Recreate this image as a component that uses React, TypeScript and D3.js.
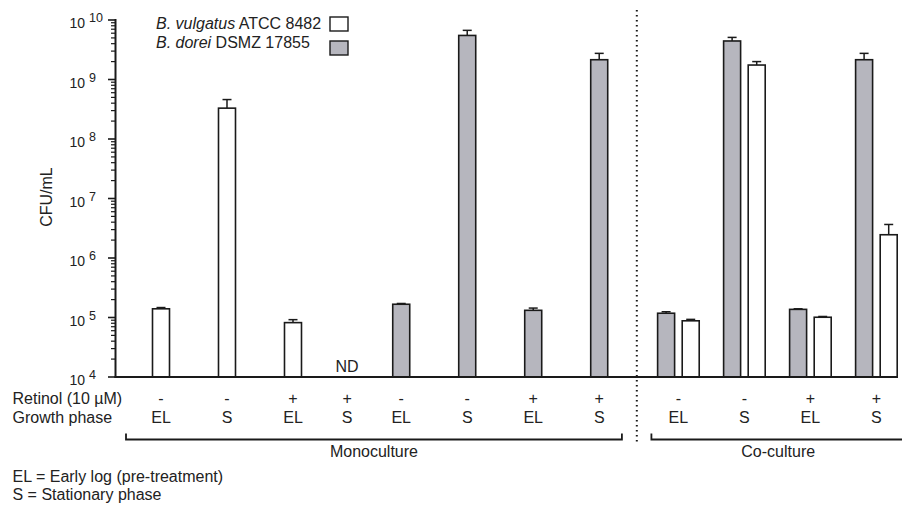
import React from 'react';
import * as d3 from 'd3';

// conditions, left to right
const phases = ['EL', 'S', 'EL', 'S', 'EL', 'S', 'EL', 'S', 'EL', 'S', 'EL', 'S'];
const retinol = ['-', '-', '+', '+', '-', '-', '+', '+', '-', '-', '+', '+'];

// B. vulgatus ATCC 8482 (white bars), CFU/mL mean and SD; null = not in that culture
const vulgatusMean = [1.4e5, 3.3e8, 8.2e4, null, null, null, null, null, 8.8e4, 1.75e9, 1.01e5, 2.46e6];
const vulgatusSd = [7e3, 1.3e8, 1e4, null, null, null, null, null, 5e3, 2.5e8, 3e3, 1.2e6];

// B. dorei DSMZ 17855 (grey bars)
const doreiMean = [null, null, null, null, 1.67e5, 5.5e9, 1.32e5, 2.15e9, 1.18e5, 4.44e9, 1.37e5, 2.15e9];
const doreiSd = [null, null, null, null, 5e3, 1.2e9, 1.2e4, 6e8, 7e3, 6.6e8, 3e3, 6e8];

const notDetected = [3]; // vulgatus S + retinol, monoculture
const coCultureStart = 8;
const yExponents = [4, 5, 6, 7, 8, 9, 10];

// layout
const W = 902;
const H = 510;
const font = '"Liberation Sans", Arial, sans-serif';
const fs = 16;
const slotGaps = [1, 1, 0.82, 0.82, 1, 1, 1, 1.2, 1, 1, 1];
const barW = 17;
const pairOffset = 12.3;
const grey = '#b6b6be';
const ink = '#1a1a1a';
const txt = '#222';

const slots = [0];
slotGaps.forEach((g, i) => slots.push(slots[i] + g));

const App = () => {
  const x = d3.scaleLinear().domain([0, slots[slots.length - 1]]).range([161, 876.4]);
  const y = d3.scaleLog().domain([1e4, 1e10]).range([377, 20]);
  const axisX = 115.5;
  const axisY = y(1e4);

  const minor: number[] = [];
  for (let e = 4; e < 10; e++) {
    for (let k = 2; k <= 9; k++) minor.push(k * Math.pow(10, e));
  }

  const bars: { cx: number; mean: number; sd: number; fill: string; key: string }[] = [];
  phases.forEach((_, i) => {
    const c = x(slots[i]);
    const co = i >= coCultureStart;
    const d = doreiMean[i];
    const v = vulgatusMean[i];
    if (d != null) bars.push({ cx: co ? c - pairOffset : c, mean: d, sd: doreiSd[i] as number, fill: grey, key: 'd' + i });
    if (v != null) bars.push({ cx: co ? c + pairOffset : c, mean: v, sd: vulgatusSd[i] as number, fill: '#fff', key: 'v' + i });
  });

  const monoL = x(slots[0]) - 35;
  const monoR = x(slots[coCultureStart - 1]) + 22.7;
  const coL = x(slots[coCultureStart]) - 27;
  const coR = 905;
  const dividerX = (x(slots[coCultureStart - 1]) + x(slots[coCultureStart])) / 2 - 2;

  return (
    <div style={{ position: 'absolute', left: 0, top: 0 }}>
      <svg width={W} height={H} style={{ display: 'block', fontFamily: font }}>
        <rect width={W} height={H} fill="#fff" />

        {/* y axis */}
        <line x1={axisX} x2={axisX} y1={y(1e10) - 1} y2={axisY + 1} stroke={ink} strokeWidth={2} />
        {yExponents.map((e) => (
          <g key={e}>
            <line x1={axisX - 7.5} x2={axisX} y1={y(Math.pow(10, e))} y2={y(Math.pow(10, e))} stroke={ink} strokeWidth={1.6} />
            <text x={85} y={y(Math.pow(10, e)) + 8} textAnchor="end" fontSize={14} fill={txt}>10</text>
            <text x={89} y={y(Math.pow(10, e)) + 2} fontSize={12.5} fill={txt}>{e}</text>
          </g>
        ))}
        {minor.map((m) => (
          <line key={m} x1={axisX - 4.5} x2={axisX} y1={y(m)} y2={y(m)} stroke={ink} strokeWidth={1.2} />
        ))}
        <text transform={`translate(52,197) rotate(-90)`} textAnchor="middle" fontSize={fs} fill={txt}>CFU/mL</text>

        {/* bars */}
        {bars.map((b) => (
          <g key={b.key}>
            <line x1={b.cx} x2={b.cx} y1={y(b.mean)} y2={y(b.mean + b.sd)} stroke={ink} strokeWidth={1.5} />
            <line x1={b.cx - 4.5} x2={b.cx + 4.5} y1={y(b.mean + b.sd)} y2={y(b.mean + b.sd)} stroke={ink} strokeWidth={1.5} />
            <rect x={b.cx - barW / 2} y={y(b.mean)} width={barW} height={axisY - y(b.mean)} fill={b.fill} stroke={ink} strokeWidth={1.6} />
          </g>
        ))}
        {notDetected.map((i) => (
          <text key={i} x={x(slots[i])} y={372} textAnchor="middle" fontSize={fs} fill={txt}>ND</text>
        ))}

        {/* x axis */}
        <line x1={axisX - 1} x2={898} y1={axisY} y2={axisY} stroke={ink} strokeWidth={2} />

        {/* divider */}
        <line x1={dividerX} x2={dividerX} y1={10} y2={444} stroke={ink} strokeWidth={2} strokeDasharray="1.6,3.4" />

        {/* condition labels */}
        <text x={12.5} y={404} fontSize={fs} fill={txt}>Retinol (10 µM)</text>
        <text x={12.5} y={423} fontSize={fs} fill={txt}>Growth phase</text>
        {phases.map((p, i) => (
          <g key={i}>
            <text x={x(slots[i])} y={404} textAnchor="middle" fontSize={fs} fill={txt}>{retinol[i]}</text>
            <text x={x(slots[i])} y={423} textAnchor="middle" fontSize={fs} fill={txt}>{p}</text>
          </g>
        ))}

        {/* group brackets */}
        <path d={`M${monoL},433.5V439.5H${monoR}V433.5`} fill="none" stroke={ink} strokeWidth={1.8} />
        <text x={(monoL + monoR) / 2} y={457} textAnchor="middle" fontSize={fs} fill={txt}>Monoculture</text>
        <path d={`M${coL},433.5V439.5H${coR}`} fill="none" stroke={ink} strokeWidth={1.8} />
        <text x={(coL + coR) / 2} y={457} textAnchor="middle" fontSize={fs} fill={txt}>Co-culture</text>

        {/* footnote */}
        <text x={12.5} y={482} fontSize={fs} fill={txt}>EL = Early log (pre-treatment)</text>
        <text x={12.5} y={500} fontSize={fs} fill={txt}>S = Stationary phase</text>

        {/* legend */}
        <text x={156} y={29} fontSize={fs} fill={txt}>
          <tspan fontStyle="italic">B. vulgatus</tspan> ATCC 8482
        </text>
        <rect x={330} y={17} width={18} height={14} fill="#fff" stroke={ink} strokeWidth={1.4} />
        <text x={156} y={48} fontSize={fs} fill={txt}>
          <tspan fontStyle="italic">B. dorei</tspan> DSMZ 17855
        </text>
        <rect x={330} y={41} width={18} height={14} fill={grey} stroke={ink} strokeWidth={1.4} />
      </svg>
    </div>
  );
};

export default App;
